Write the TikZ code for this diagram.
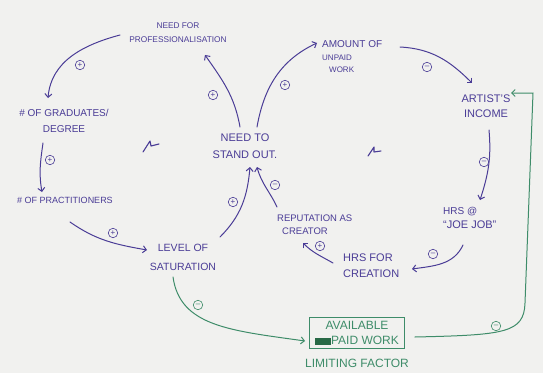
\documentclass[tikz,border=0pt]{standalone}
\usepackage{fontspec}
\setmainfont{Liberation Sans}
\usetikzlibrary{arrows.meta}
\definecolor{ink}{RGB}{74,60,150}
\definecolor{gink}{RGB}{62,140,105}
\definecolor{paper}{RGB}{241,241,239}
\definecolor{blob}{RGB}{40,105,70}
\newcommand{\fsz}[2]{\fontsize{#1pt}{#2pt}\selectfont}
\tikzset{
  lbl/.style={text=ink, inner sep=1pt},
  link/.style={draw=ink, line width=1pt, line cap=round,
    -{Straight Barb[length=3.5pt,width=7pt]}},
  glink/.style={link, draw=gink},
  sign/.style={circle, draw=ink, text=ink, line width=0.6pt, minimum size=9.5pt,
    inner sep=0pt, font=\fsz{8}{8}},
  gsign/.style={sign, draw=gink, text=gink},
  loopmark/.style={draw=ink, line width=1.1pt, line join=round, line cap=round}
}
\begin{document}
\begin{tikzpicture}[x=1pt,y=1pt]
\fill[paper] (0,0) rectangle (543,373);
\useasboundingbox (0,0) rectangle (543,373);

% variables
\node[lbl, align=center, font=\fsz{8.3}{14}] (prof) at (178,340) {NEED FOR\\PROFESSIONALISATION};
\node[lbl, align=center, font=\fsz{10}{16}] (grad) at (64,252) {\# OF GRADUATES/\\DEGREE};
\node[lbl, font=\fsz{9}{12}] (prac) at (65,173) {\# OF PRACTITIONERS};
\node[lbl, align=center, font=\fsz{10.5}{19}] (sat) at (183,116) {LEVEL OF\\SATURATION};
\node[lbl, align=center, font=\fsz{11}{17}] (stand) at (245,227) {NEED TO\\STAND OUT.};
\node[lbl, align=left, anchor=west, font=\fsz{8}{12.5}] (unpaid) at (321,316)
  {{\fsz{10}{12.5}AMOUNT OF}\\UNPAID\\\hspace*{7pt}WORK};
\node[lbl, align=center, font=\fsz{11}{15}] (income) at (486,267) {ARTIST'S\\INCOME};
\node[lbl, align=left, anchor=west, font=\fsz{11}{14}] (dayjob) at (442,155)
  {{\fsz{10}{14}HRS @}\\``JOE JOB''};
\node[lbl, align=left, anchor=west, font=\fsz{11}{16}] (creation) at (342,107) {HRS FOR\\CREATION};
\node[lbl, align=left, anchor=west, font=\fsz{9.5}{13}] (rep) at (276,148) {REPUTATION AS\\\hspace*{5pt}CREATOR};
\node[draw=gink, line width=0.9pt, text=gink, minimum width=95pt, minimum height=30pt,
  align=center, font=\fsz{12}{15}] (avail) at (357,40)
  {AVAILABLE\\\textcolor{blob}{\rule[-0.5pt]{16pt}{7pt}}PAID WORK};
\node[text=gink, font=\fsz{12}{14}, inner sep=1pt] (limit) at (357,10) {LIMITING FACTOR};

% reinforcing loop markers
\draw[loopmark, shift={(150,227)}] (-7,-6) -- (0,5) -- (1,0) -- (9,2);
\draw[loopmark, shift={(374,222)}] (-6,-5) -- (0,4) -- (0,-1) -- (7,0);

% causal links
\draw[link] ([shift={(-5,19)}]stand.center) to[out=100,in=-55] ([shift={(27,-22)}]prof.center);
\draw[link] ([shift={(-58,-2)}]prof.center) to[out=195,in=85] ([shift={(-16,23)}]grad.center);
\draw[link] ([shift={(-21,-22)}]grad.center) to[out=-98,in=100] ([shift={(-23,8)}]prac.center);
\draw[link] ([shift={(5,-22)}]prac.center) to[out=-35,in=170] ([shift={(-36,7)}]sat.center);
\draw[link] ([shift={(37,20)}]sat.center) to[out=45,in=-95] ([shift={(5,-21)}]stand.center);
\draw[link] ([shift={(1,18)}]rep.west) to[out=115,in=-75] ([shift={(12,-21)}]stand.center);
\draw[link] ([shift={(12,19)}]stand.center) to[out=80,in=205] ([shift={(-4,14)}]unpaid.west);
\draw[link] ([shift={(79,10)}]unpaid.west) to[out=-3,in=135] ([shift={(-14,23)}]income.center);
\draw[link] ([shift={(3,-24)}]income.center) to[out=-85,in=72] ([shift={(38,18)}]dayjob.west);
\draw[link] ([shift={(21,-27)}]dayjob.west) to[out=-115,in=8] ([shift={(70,-3)}]creation.west);
\draw[link] ([shift={(-9,3)}]creation.west) to[out=150,in=-45] ([shift={(27,-18)}]rep.west);

% limiting factor links
\coordinate (gbend) at (525,70);
\coordinate (gtop) at (533,280);
\draw[glink] ([shift={(-10,-20)}]sat.center) .. controls +(-82:50) and +(172:75) .. ([shift={(-4,-8)}]avail.west);
\draw[glink] ([shift={(10,-4)}]avail.east) .. controls +(90,2) and +(-1,-30) .. (gbend) -- (gtop) -- ([shift={(25,13)}]income.center);

% link polarities
\node[sign] (s1) at (80,308) {+};
\node[sign] (s2) at (213,278) {+};
\node[sign] (s3) at (50,213) {+};
\node[sign] (s4) at (113,140) {+};
\node[sign] (s5) at (233,171) {+};
\node[sign] (s6) at (275,188) {--};
\node[sign] (s7) at (285,288) {+};
\node[sign] (s8) at (427,306) {--};
\node[sign] (s9) at (484,211) {--};
\node[sign] (s10) at (433,119) {--};
\node[sign] (s11) at (320,127) {+};
\node[gsign] (s12) at (198,68) {--};
\node[gsign] (s13) at (496,47) {--};
\end{tikzpicture}
\end{document}
